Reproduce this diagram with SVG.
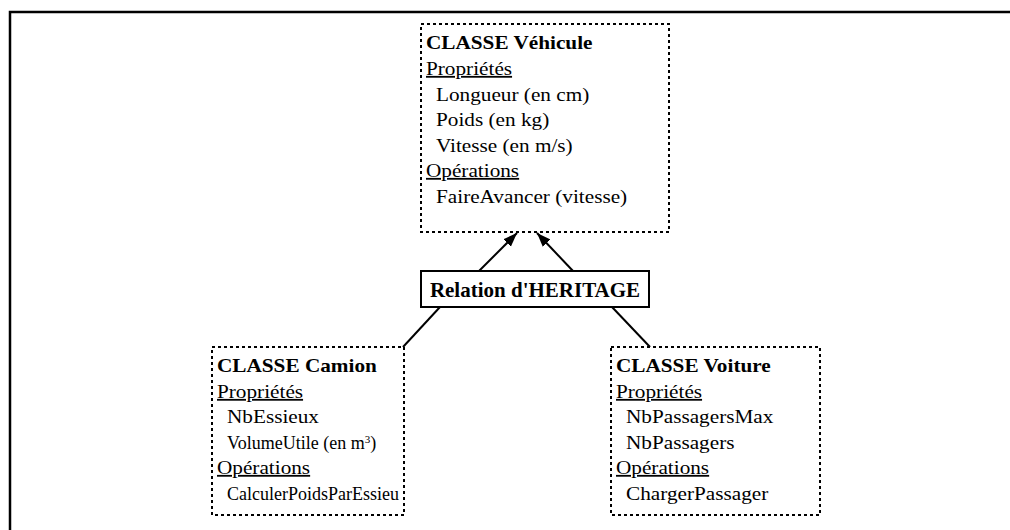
<svg xmlns="http://www.w3.org/2000/svg" width="1010" height="530" viewBox="0 0 1010 530">
<style>
.frame{fill:none;stroke:#000;stroke-width:2.5}
.cls{fill:#fff;stroke:#000;stroke-width:2;stroke-dasharray:3 3}
.rel{fill:#fff;stroke:#000;stroke-width:2}
text{font-family:"Liberation Serif","Times New Roman",serif;font-size:18px;fill:#000}
.b{font-weight:bold}
.u{text-decoration:underline}
.relt{font-size:21px;font-weight:bold}
.conn{stroke:#000;stroke-width:2;fill:none}
</style>
<defs>
<marker id="arr" viewBox="0 0 10 10" refX="10" refY="5" markerWidth="7" markerHeight="7" orient="auto" markerUnits="strokeWidth">
<path d="M0,1.2 L10,5 L0,8.8 z" fill="#000"/>
</marker>
</defs>
<rect class="frame" x="10" y="12" width="1020" height="540"/>
<g id="connectors">
<line class="conn" x1="479" y1="271" x2="517" y2="233" marker-end="url(#arr)"/>
<line class="conn" x1="573" y1="271" x2="537" y2="233" marker-end="url(#arr)"/>
<line class="conn" x1="440" y1="307" x2="403" y2="347"/>
<line class="conn" x1="612" y1="307" x2="650" y2="347"/>
</g>
<g id="vehicule">
<rect class="cls" x="421" y="24" width="248" height="208"/>
<g transform="translate(426,0) scale(1.18,1)">
<text class="b" x="0" y="49">CLASSE Véhicule</text>
<text class="u" x="0" y="75">Propriétés</text>
<text x="8.5" y="101">Longueur (en cm)</text>
<text x="8.5" y="126">Poids (en kg)</text>
<text x="8.5" y="152">Vitesse (en m/s)</text>
<text class="u" x="0" y="177">Opérations</text>
<text x="8.5" y="203">FaireAvancer (vitesse)</text>
</g>
</g>
<g id="heritage">
<rect class="rel" x="421" y="271" width="228" height="36"/>
<text class="relt" x="535" y="297" text-anchor="middle">Relation d'HERITAGE</text>
</g>
<g id="camion">
<rect class="cls" x="212" y="347" width="192" height="168"/>
<g transform="translate(217,0) scale(1.18,1)">
<text class="b" x="0" y="372">CLASSE Camion</text>
<text class="u" x="0" y="398">Propriétés</text>
<text x="8.5" y="423">NbEssieux</text>
<text class="u" x="0" y="474">Opérations</text>
</g>
<text x="227" y="449" font-size="18.5">VolumeUtile (en m<tspan font-size="11" baseline-shift="super">3</tspan>)</text>
<text x="227" y="500" font-size="18">CalculerPoidsParEssieu</text>
</g>
<g id="voiture">
<rect class="cls" x="611" y="347" width="209" height="168"/>
<g transform="translate(616,0) scale(1.18,1)">
<text class="b" x="0" y="372">CLASSE Voiture</text>
<text class="u" x="0" y="398">Propriétés</text>
<text x="8.5" y="423">NbPassagersMax</text>
<text x="8.5" y="449">NbPassagers</text>
<text class="u" x="0" y="474">Opérations</text>
<text x="8.5" y="500">ChargerPassager</text>
</g>
</g>
</svg>
